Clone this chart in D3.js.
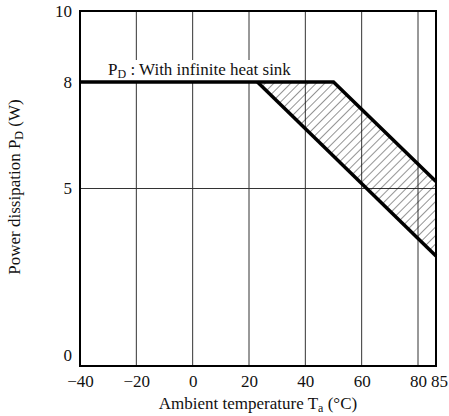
<!DOCTYPE html>
<html>
<head>
<meta charset="utf-8">
<script src="https://cdn.jsdelivr.net/npm/d3@7"></script>
<style>
  html, body { margin: 0; padding: 0; background: #fff; }
  svg { display: block; }
</style>
</head>
<body>
<div id="chart"></div>
<script>
// ---- data ----
const xTicks = [-40, -20, 0, 20, 40, 60, 80, 85];
const yTicks = [0, 5, 8, 10];
const xGrid = [-20, 0, 20, 40, 60, 80];
const yGrid = [5];
// P_D with infinite heat sink (upper bound)
const upperTa = [-40, 50, 85];
const upperPd = [8, 8, 5.2];
// lower bound of hatched region
const lowerTa = [23, 85];
const lowerPd = [8, 3.1];
const curveLabel = "With infinite heat sink";

const FONT = "'Liberation Serif', Tinos, 'DejaVu Serif', serif";

// ---- layout ----
const W = 449, H = 416;
const svg = d3.select("#chart").append("svg").attr("width", W).attr("height", H)
  .style("font-family", FONT);

const x = d3.scaleLinear().domain([-40, 80, 85]).range([80, 418, 436]);
const y = d3.scaleLinear().domain([0, 10]).range([366, 11]);

// hatch pattern
const defs = svg.append("defs");
defs.append("pattern")
  .attr("id", "hatch")
  .attr("patternUnits", "userSpaceOnUse")
  .attr("width", 6).attr("height", 6)
  .attr("patternTransform", "rotate(45)")
  .append("line")
  .attr("x1", 0).attr("y1", 0).attr("x2", 0).attr("y2", 6)
  .attr("stroke", "#111").attr("stroke-width", 0.9);

// grid lines
svg.append("g").selectAll("line").data(xGrid).join("line")
  .attr("x1", d => x(d)).attr("x2", d => x(d))
  .attr("y1", y(10)).attr("y2", y(0))
  .attr("stroke", "#333").attr("stroke-width", 1);
svg.append("g").selectAll("line").data(yGrid).join("line")
  .attr("x1", x(-40)).attr("x2", x(85))
  .attr("y1", d => y(d)).attr("y2", d => y(d))
  .attr("stroke", "#333").attr("stroke-width", 1);

// hatched region
const upperPts = upperTa.map((t, i) => [t, upperPd[i]]);
const lowerPts = lowerTa.map((t, i) => [t, lowerPd[i]]);
const region = [lowerPts[0]]
  .concat(upperPts.filter(p => p[0] > lowerTa[0]))
  .concat(lowerPts.slice().reverse().filter(p => p[0] > lowerTa[0]));
svg.append("path")
  .attr("d", d3.line().x(d => x(d[0])).y(d => y(d[1]))(region) + "Z")
  .attr("fill", "url(#hatch)").attr("stroke", "none");

// label with white background
const lbl = svg.append("g");
const bg = lbl.append("rect").attr("fill", "#fff");
const lt = lbl.append("text").attr("x", 108).attr("y", 75)
  .style("font-family", FONT).style("font-size", "17px").attr("fill", "#111");
lt.append("tspan").text("P");
lt.append("tspan").style("font-size", "12px").attr("dy", 3).text("D");
lt.append("tspan").attr("dy", -3).text(" : " + curveLabel);
const bb = lt.node().getBBox();
bg.attr("x", bb.x - 3).attr("y", 60).attr("width", bb.width + 6).attr("height", y(8) - 60);

// curves
const lineGen = d3.line().x(d => x(d[0])).y(d => y(d[1]));
svg.append("path").attr("d", lineGen(upperPts))
  .attr("fill", "none").attr("stroke", "#000").attr("stroke-width", 3.5)
  .attr("stroke-linejoin", "miter");
svg.append("path").attr("d", lineGen(lowerPts))
  .attr("fill", "none").attr("stroke", "#000").attr("stroke-width", 3.5);

// frame
svg.append("rect")
  .attr("x", x(-40)).attr("y", y(10))
  .attr("width", x(85) - x(-40)).attr("height", y(0) - y(10))
  .attr("fill", "none").attr("stroke", "#000").attr("stroke-width", 2);

// axes
const xAxis = svg.append("g").attr("transform", `translate(0,${y(0)})`)
  .call(d3.axisBottom(x).tickValues(xTicks).tickSize(0).tickPadding(9)
    .tickFormat(d => d < 0 ? "\u2212" + Math.abs(d) : String(d)));
xAxis.attr("font-family", null).attr("font-size", null);
xAxis.select(".domain").remove();
xAxis.selectAll("text").style("font-family", FONT).style("font-size", "17px").attr("fill", "#111");
xAxis.selectAll(".tick").filter(d => d === 85).select("text").attr("dx", 3);

const yAxis = svg.append("g").attr("transform", `translate(${x(-40)},0)`)
  .call(d3.axisLeft(y).tickValues(yTicks).tickSize(0).tickPadding(8));
yAxis.attr("font-family", null).attr("font-size", null);
yAxis.select(".domain").remove();
yAxis.selectAll("text").style("font-family", FONT).style("font-size", "17px").attr("fill", "#111");
yAxis.selectAll(".tick").filter(d => d === 0).select("text").attr("dy", "-0.3em");

// axis titles
const xt = svg.append("text").attr("x", 258).attr("y", 409)
  .attr("text-anchor", "middle").style("font-family", FONT).style("font-size", "17px").attr("fill", "#111");
xt.append("tspan").text("Ambient temperature T");
xt.append("tspan").style("font-size", "12px").attr("dy", 3).text("a");
xt.append("tspan").attr("dy", -3).text(" (\u00B0C)");

const yt = svg.append("text")
  .attr("transform", "translate(20,187) rotate(-90)")
  .attr("text-anchor", "middle").style("font-family", FONT).style("font-size", "17px").attr("fill", "#111");
yt.append("tspan").text("Power dissipation P");
yt.append("tspan").style("font-size", "12px").attr("dy", 3).text("D");
yt.append("tspan").attr("dy", -3).text(" (W)");
</script>
</body>
</html>
